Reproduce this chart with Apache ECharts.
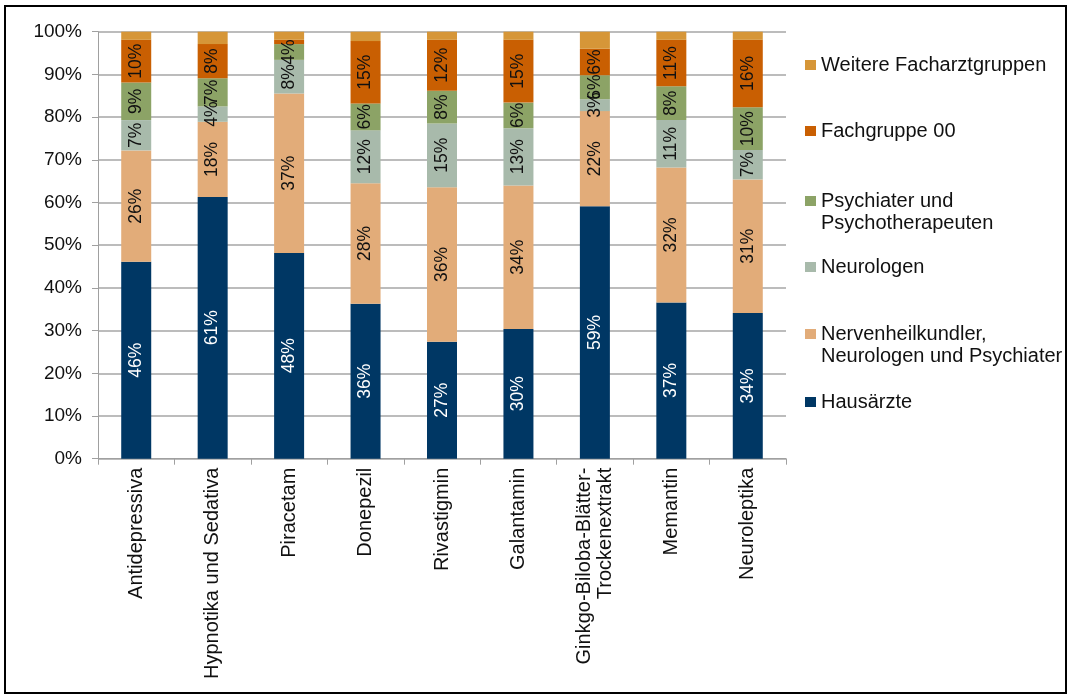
<!DOCTYPE html>
<html>
<head>
<meta charset="utf-8">
<script src="https://cdn.jsdelivr.net/npm/echarts@6/dist/echarts.min.js"></script>
<style>
  html, body { margin: 0; padding: 0; background: #fff; }
  #chart { width: 1070px; height: 695px; }
</style>
</head>
<body>
<div id="chart"></div>
<script>
// Drug groups (x axis)
const categories = [
  'Antidepressiva',
  'Hypnotika und Sedativa',
  'Piracetam',
  'Donepezil',
  'Rivastigmin',
  'Galantamin',
  'Ginkgo-Biloba-Blätter-\nTrockenextrakt',
  'Memantin',
  'Neuroleptika'
];

// Share of prescriptions per physician group, in percent (bottom to top)
const hausaerzte   = [46.1, 61.3, 48.2, 36.3, 27.4, 30.4, 59.1, 36.6, 34.1];
const nervenheil   = [26.1, 17.6, 37.3, 28.2, 36.2, 33.6, 22.3, 31.6, 31.3];
const neurologen   = [ 7.1,  3.6,  7.9, 12.4, 14.9, 13.4,  2.8, 11.1,  6.9];
const psychiater   = [ 8.8,  6.6,  3.7,  6.3,  7.7,  6.0,  5.6,  7.9, 10.0];
const fachgruppe00 = [10.0,  8.0,  1.0, 14.6, 11.9, 14.7,  6.2, 10.9, 15.8];
const weitere      = [ 1.9,  2.9,  1.9,  2.2,  1.9,  1.9,  4.0,  1.9,  1.9];

const yTicks = [0, 10, 20, 30, 40, 50, 60, 70, 80, 90, 100];

const seriesNames = [
  'Hausärzte',
  'Nervenheilkundler,\nNeurologen und Psychiater',
  'Neurologen',
  'Psychiater und\nPsychotherapeuten',
  'Fachgruppe 00',
  'Weitere Facharztgruppen'
];
const seriesData = [hausaerzte, nervenheil, neurologen, psychiater, fachgruppe00, weitere];
const colors = ['#003764', '#E2AC79', '#A8BAAB', '#8CA366', '#C95F02', '#D69638'];
const labelColors = ['#ffffff', '#111', '#111', '#111', '#111', '#111'];
const showLabels = [true, true, true, true, true, false];

const FONT = '"Liberation Sans", Arial, sans-serif';

const series = seriesNames.map((name, i) => ({
  name: name,
  type: 'bar',
  stack: 'total',
  barWidth: 30,
  data: seriesData[i],
  itemStyle: { color: colors[i] },
  label: {
    show: showLabels[i],
    position: 'inside',
    rotate: 90,
    fontFamily: FONT,
    fontSize: 17.5,
    color: labelColors[i],
    formatter: p => (p.value < 2.5 ? '' : Math.round(p.value) + '%')
  }
}));

// Legend entries listed top-down, each at its own vertical position;
// the icon sits on the first text line (y = centre of that line).
const legendRows = [
  { idx: 5, y: 65 },
  { idx: 4, y: 131 },
  { idx: 3, y: 201 },
  { idx: 2, y: 267 },
  { idx: 1, y: 334 },
  { idx: 0, y: 402 }
];
const LINE_H = 22;
const legends = legendRows.map(r => {
  const multi = seriesNames[r.idx].indexOf('\n') >= 0;
  // A blank leading line keeps the block centred on the icon
  // while the first real line lands level with it.
  const nLines = multi ? 3 : 1;
  return {
    orient: 'vertical',
    left: 805,
    top: r.y - (nLines * LINE_H) / 2,
    itemWidth: 11,
    itemHeight: 10,
    itemGap: 0,
    icon: 'rect',
    padding: 0,
    selectedMode: false,
    data: [seriesNames[r.idx]],
    formatter: name => (multi ? '\n' + name : name),
    textStyle: {
      fontFamily: FONT,
      fontSize: 20,
      color: '#111',
      lineHeight: LINE_H
    }
  };
});

const chart = echarts.init(document.getElementById('chart'), null, { renderer: 'canvas' });
chart.setOption({
  backgroundColor: '#ffffff',
  animation: false,
  color: colors,
  grid: { left: 98, right: 284, top: 31.7, bottom: 236.3, containLabel: false },
  legend: legends,
  xAxis: {
    type: 'category',
    data: categories,
    axisLine: { show: true, lineStyle: { color: '#A0A0A0', width: 1 } },
    axisTick: { show: true, alignWithLabel: false, length: 6, lineStyle: { color: '#A0A0A0' } },
    axisLabel: {
      rotate: 90,
      interval: 0,
      margin: 9,
      fontFamily: FONT,
      fontSize: 20,
      color: '#111',
      lineHeight: 21
    }
  },
  yAxis: {
    type: 'value',
    min: yTicks[0],
    max: yTicks[yTicks.length - 1],
    interval: 10,
    axisLine: { show: true, lineStyle: { color: '#A0A0A0', width: 1 } },
    axisTick: { show: true, length: 6, lineStyle: { color: '#A0A0A0' } },
    splitLine: { show: true, lineStyle: { color: '#A6A6A6', width: 1.5 } },
    axisLabel: {
      formatter: '{value}%',
      margin: 16,
      fontFamily: FONT,
      fontSize: 19,
      color: '#111'
    }
  },
  graphic: [{
    type: 'rect',
    shape: { x: 5, y: 6, width: 1061, height: 687 },
    style: { fill: null, stroke: '#000', lineWidth: 2 },
    silent: true,
    z: 100
  }],
  series: series
});
</script>
</body>
</html>
